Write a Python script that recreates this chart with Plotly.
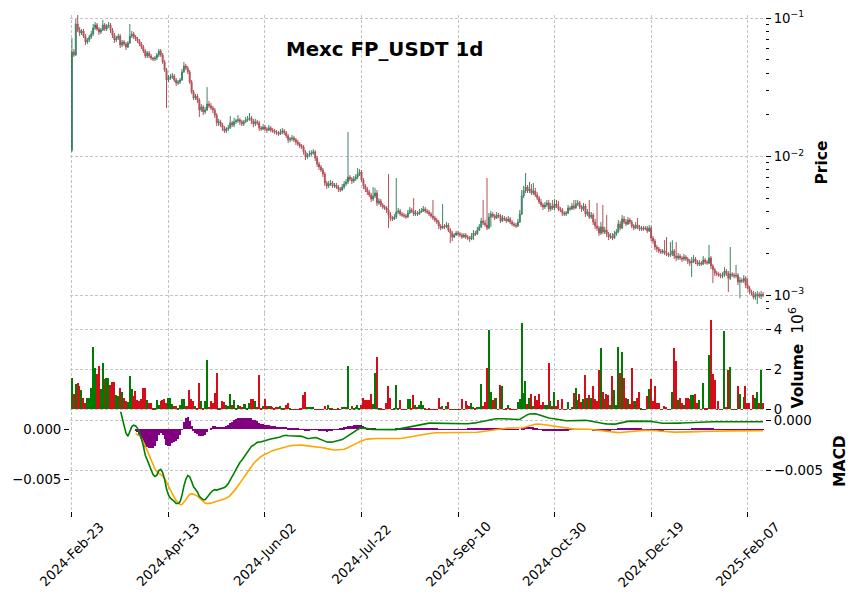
import plotly.graph_objects as go
import pandas as pd

# ---------------- data ----------------
tick_index = [0, 50, 100, 150, 200, 250, 300, 350]
tick_labels = ["2024-Feb-23", "2024-Apr-13", "2024-Jun-02", "2024-Jul-22",
               "2024-Sep-10", "2024-Oct-30", "2024-Dec-19", "2025-Feb-07"]

closes = [
    0.0568, 0.0541, 0.0905, 0.0819, 0.0779, 0.0806, 0.0741, 0.0671, 0.0694, 0.0729,
    0.0766, 0.0847, 0.0890, 0.0833, 0.0792, 0.0819, 0.0890, 0.0833, 0.0875, 0.0890,
    0.0819, 0.0754, 0.0694, 0.0717, 0.0741, 0.0638, 0.0671, 0.0649, 0.0617, 0.0660,
    0.0741, 0.0766, 0.0729, 0.0705, 0.0682, 0.0649, 0.0617, 0.0578, 0.0532, 0.0559,
    0.0532, 0.0514, 0.0506, 0.0514, 0.0541, 0.0578, 0.0541, 0.0481, 0.0421, 0.0357,
    0.0369, 0.0375, 0.0381, 0.0357, 0.0339, 0.0345, 0.0357, 0.0408, 0.0450, 0.0436,
    0.0408, 0.0345, 0.0292, 0.0264, 0.0273, 0.0256, 0.0217, 0.0228, 0.0210, 0.0217,
    0.0239, 0.0232, 0.0224, 0.0217, 0.0199, 0.0175, 0.0178, 0.0169, 0.0161, 0.0153,
    0.0158, 0.0161, 0.0175, 0.0169, 0.0178, 0.0181, 0.0184, 0.0178, 0.0172, 0.0178,
    0.0184, 0.0187, 0.0190, 0.0181, 0.0172, 0.0178, 0.0175, 0.0161, 0.0158, 0.0163,
    0.0158, 0.0155, 0.0161, 0.0155, 0.0153, 0.0150, 0.0148, 0.0145, 0.0150, 0.0153,
    0.0148, 0.0141, 0.0132, 0.0134, 0.0136, 0.0132, 0.0127, 0.0123, 0.0119, 0.0117,
    0.0108, 0.00992, 0.0103, 0.0104, 0.0106, 0.0108, 0.00975, 0.00883, 0.00840, 0.00799,
    0.00747, 0.00644, 0.00613, 0.00633, 0.00644, 0.00613, 0.00623, 0.00602, 0.00583, 0.00573,
    0.00602, 0.00633, 0.00655, 0.00711, 0.00687, 0.00666, 0.00687, 0.00711, 0.00747, 0.00773,
    0.00676, 0.00613, 0.00583, 0.00554, 0.00527, 0.00493, 0.00518, 0.00545, 0.00462, 0.00477,
    0.00447, 0.00432, 0.00425, 0.00411, 0.00378, 0.00360, 0.00354, 0.00366, 0.00397, 0.00404,
    0.00384, 0.00378, 0.00372, 0.00366, 0.00391, 0.00411, 0.00404, 0.00384, 0.00391, 0.00384,
    0.00397, 0.00404, 0.00418, 0.00404, 0.00397, 0.00384, 0.00372, 0.00360, 0.00348, 0.00336,
    0.00315, 0.00304, 0.00315, 0.00310, 0.00320, 0.00294, 0.00280, 0.00262, 0.00271, 0.00280,
    0.00276, 0.00271, 0.00262, 0.00271, 0.00262, 0.00258, 0.00254, 0.00267, 0.00280, 0.00276,
    0.00294, 0.00310, 0.00342, 0.00331, 0.00320, 0.00304, 0.00366, 0.00384, 0.00372, 0.00360,
    0.00378, 0.00372, 0.00342, 0.00360, 0.00354, 0.00342, 0.00354, 0.00336, 0.00325, 0.00320,
    0.00315, 0.00336, 0.00384, 0.00518, 0.00564, 0.00602, 0.00564, 0.00583, 0.00545, 0.00564,
    0.00527, 0.00501, 0.00469, 0.00447, 0.00432, 0.00447, 0.00462, 0.00418, 0.00439, 0.00425,
    0.00454, 0.00439, 0.00418, 0.00411, 0.00391, 0.00384, 0.00391, 0.00425, 0.00418, 0.00439,
    0.00425, 0.00454, 0.00462, 0.00432, 0.00418, 0.00439, 0.00384, 0.00397, 0.00366, 0.00378,
    0.00336, 0.00315, 0.00304, 0.00280, 0.00310, 0.00285, 0.00294, 0.00276, 0.00262, 0.00267,
    0.00258, 0.00276, 0.00285, 0.00325, 0.00304, 0.00354, 0.00336, 0.00325, 0.00348, 0.00336,
    0.00315, 0.00304, 0.00320, 0.00310, 0.00299, 0.00304, 0.00299, 0.00304, 0.00290, 0.00304,
    0.00258, 0.00245, 0.00222, 0.00215, 0.00208, 0.00204, 0.00208, 0.00201, 0.00198, 0.00194,
    0.00198, 0.00208, 0.00191, 0.00185, 0.00191, 0.00185, 0.00182, 0.00188, 0.00182, 0.00176,
    0.00170, 0.00176, 0.00182, 0.00173, 0.00167, 0.00170, 0.00167, 0.00179, 0.00173, 0.00170,
    0.00185, 0.00162, 0.00152, 0.00144, 0.00142, 0.00139, 0.00137, 0.00139, 0.00149, 0.00144,
    0.00132, 0.00142, 0.00139, 0.00137, 0.00139, 0.00124, 0.00128, 0.00126, 0.00132, 0.00118,
    0.00112, 0.00105, 0.00103, 0.000964, 0.000996, 0.00101, 0.000980, 0.00101, 0.000996,
]

opens = [
    0.0111, 0.0568, 0.0541, 0.0905, 0.0819, 0.0779, 0.0806, 0.0741, 0.0671, 0.0694,
    0.0729, 0.0766, 0.0847, 0.0890, 0.0833, 0.0792, 0.0819, 0.0890, 0.0833, 0.0875,
    0.0890, 0.0819, 0.0754, 0.0694, 0.0717, 0.0741, 0.0638, 0.0671, 0.0649, 0.0617,
    0.0660, 0.0741, 0.0766, 0.0729, 0.0705, 0.0682, 0.0649, 0.0617, 0.0578, 0.0532,
    0.0559, 0.0532, 0.0514, 0.0506, 0.0514, 0.0541, 0.0578, 0.0541, 0.0481, 0.0421,
    0.0357, 0.0369, 0.0375, 0.0381, 0.0357, 0.0339, 0.0345, 0.0357, 0.0408, 0.0450,
    0.0436, 0.0408, 0.0345, 0.0292, 0.0264, 0.0273, 0.0256, 0.0217, 0.0228, 0.0210,
    0.0217, 0.0239, 0.0232, 0.0224, 0.0217, 0.0199, 0.0175, 0.0178, 0.0169, 0.0161,
    0.0153, 0.0158, 0.0161, 0.0175, 0.0169, 0.0178, 0.0181, 0.0184, 0.0178, 0.0172,
    0.0178, 0.0184, 0.0187, 0.0190, 0.0181, 0.0172, 0.0178, 0.0175, 0.0161, 0.0158,
    0.0163, 0.0158, 0.0155, 0.0161, 0.0155, 0.0153, 0.0150, 0.0148, 0.0145, 0.0150,
    0.0153, 0.0148, 0.0141, 0.0132, 0.0134, 0.0136, 0.0132, 0.0127, 0.0123, 0.0119,
    0.0117, 0.0108, 0.00992, 0.0103, 0.0104, 0.0106, 0.0108, 0.00975, 0.00883, 0.00840,
    0.00799, 0.00747, 0.00644, 0.00613, 0.00633, 0.00644, 0.00613, 0.00623, 0.00602, 0.00583,
    0.00573, 0.00602, 0.00633, 0.00655, 0.00711, 0.00687, 0.00666, 0.00687, 0.00711, 0.00747,
    0.00773, 0.00676, 0.00613, 0.00583, 0.00554, 0.00527, 0.00493, 0.00518, 0.00545, 0.00462,
    0.00477, 0.00447, 0.00432, 0.00425, 0.00411, 0.00378, 0.00360, 0.00354, 0.00366, 0.00397,
    0.00404, 0.00384, 0.00378, 0.00372, 0.00366, 0.00391, 0.00411, 0.00404, 0.00384, 0.00391,
    0.00384, 0.00397, 0.00404, 0.00418, 0.00404, 0.00397, 0.00384, 0.00372, 0.00360, 0.00348,
    0.00336, 0.00315, 0.00304, 0.00315, 0.00310, 0.00320, 0.00294, 0.00280, 0.00262, 0.00271,
    0.00280, 0.00276, 0.00271, 0.00262, 0.00271, 0.00262, 0.00258, 0.00254, 0.00267, 0.00280,
    0.00276, 0.00294, 0.00310, 0.00342, 0.00331, 0.00320, 0.00304, 0.00366, 0.00384, 0.00372,
    0.00360, 0.00378, 0.00372, 0.00342, 0.00360, 0.00354, 0.00342, 0.00354, 0.00336, 0.00325,
    0.00320, 0.00315, 0.00336, 0.00384, 0.00518, 0.00564, 0.00602, 0.00564, 0.00583, 0.00545,
    0.00564, 0.00527, 0.00501, 0.00469, 0.00447, 0.00432, 0.00447, 0.00462, 0.00418, 0.00439,
    0.00425, 0.00454, 0.00439, 0.00418, 0.00411, 0.00391, 0.00384, 0.00391, 0.00425, 0.00418,
    0.00439, 0.00425, 0.00454, 0.00462, 0.00432, 0.00418, 0.00439, 0.00384, 0.00397, 0.00366,
    0.00378, 0.00336, 0.00315, 0.00304, 0.00280, 0.00310, 0.00285, 0.00294, 0.00276, 0.00262,
    0.00267, 0.00258, 0.00276, 0.00285, 0.00325, 0.00304, 0.00354, 0.00336, 0.00325, 0.00348,
    0.00336, 0.00315, 0.00304, 0.00320, 0.00310, 0.00299, 0.00304, 0.00299, 0.00304, 0.00290,
    0.00304, 0.00258, 0.00245, 0.00222, 0.00215, 0.00208, 0.00204, 0.00208, 0.00201, 0.00198,
    0.00194, 0.00198, 0.00208, 0.00191, 0.00185, 0.00191, 0.00185, 0.00182, 0.00188, 0.00182,
    0.00176, 0.00170, 0.00176, 0.00182, 0.00173, 0.00167, 0.00170, 0.00167, 0.00179, 0.00173,
    0.00170, 0.00185, 0.00162, 0.00152, 0.00144, 0.00142, 0.00139, 0.00137, 0.00139, 0.00149,
    0.00144, 0.00132, 0.00142, 0.00139, 0.00137, 0.00139, 0.00124, 0.00128, 0.00126, 0.00132,
    0.00118, 0.00112, 0.00105, 0.00103, 0.000964, 0.000996, 0.00101, 0.000980, 0.00101,
]

highs = [
    0.0717, 0.0597, 0.0984, 0.107, 0.0861, 0.0833, 0.0833, 0.0766, 0.0717, 0.0754,
    0.0806, 0.0905, 0.0936, 0.0920, 0.0861, 0.0847, 0.0967, 0.0920, 0.0905, 0.0936,
    0.0920, 0.0847, 0.0779, 0.0741, 0.0766, 0.0766, 0.0694, 0.0694, 0.0671, 0.0682,
    0.0905, 0.0806, 0.0792, 0.0754, 0.0729, 0.0705, 0.0671, 0.0638, 0.0597, 0.0578,
    0.0578, 0.0550, 0.0523, 0.0532, 0.0559, 0.0597, 0.0597, 0.0559, 0.0497, 0.0436,
    0.0388, 0.0394, 0.0401, 0.0394, 0.0369, 0.0357, 0.0369, 0.0428, 0.0481, 0.0466,
    0.0450, 0.0421, 0.0357, 0.0302, 0.0283, 0.0283, 0.0264, 0.0239, 0.0235, 0.0228,
    0.0317, 0.0252, 0.0243, 0.0232, 0.0224, 0.0206, 0.0187, 0.0184, 0.0175, 0.0166,
    0.0163, 0.0169, 0.0196, 0.0181, 0.0190, 0.0187, 0.0199, 0.0190, 0.0184, 0.0184,
    0.0193, 0.0196, 0.0206, 0.0196, 0.0187, 0.0187, 0.0184, 0.0181, 0.0166, 0.0172,
    0.0169, 0.0163, 0.0169, 0.0166, 0.0161, 0.0158, 0.0155, 0.0153, 0.0158, 0.0161,
    0.0158, 0.0153, 0.0145, 0.0138, 0.0143, 0.0141, 0.0136, 0.0132, 0.0127, 0.0123,
    0.0121, 0.0111, 0.0106, 0.0110, 0.0111, 0.0113, 0.0111, 0.0101, 0.00913, 0.00868,
    0.00826, 0.00773, 0.00666, 0.00666, 0.00676, 0.00666, 0.00644, 0.00644, 0.00623, 0.00602,
    0.00633, 0.00666, 0.00687, 0.0150, 0.00735, 0.00711, 0.00723, 0.00747, 0.00826, 0.00812,
    0.00799, 0.00699, 0.00633, 0.00602, 0.00573, 0.00545, 0.00602, 0.00593, 0.00573, 0.00501,
    0.00493, 0.00462, 0.00447, 0.00439, 0.00747, 0.00397, 0.00372, 0.00384, 0.00699, 0.00425,
    0.00418, 0.00397, 0.00391, 0.00384, 0.00411, 0.00432, 0.00425, 0.00501, 0.00411, 0.00404,
    0.00418, 0.00425, 0.00439, 0.00432, 0.00418, 0.00411, 0.00397, 0.00485, 0.00372, 0.00360,
    0.00348, 0.00325, 0.00454, 0.00325, 0.00336, 0.00331, 0.00304, 0.00290, 0.00280, 0.00290,
    0.00290, 0.00285, 0.00280, 0.00280, 0.00280, 0.00271, 0.00267, 0.00280, 0.00294, 0.00290,
    0.00310, 0.00325, 0.00360, 0.00485, 0.00348, 0.00699, 0.00391, 0.00404, 0.00397, 0.00384,
    0.00397, 0.00391, 0.00384, 0.00378, 0.00372, 0.00366, 0.00372, 0.00366, 0.00348, 0.00336,
    0.00331, 0.00354, 0.00411, 0.00573, 0.00613, 0.00760, 0.00623, 0.00655, 0.00633, 0.00644,
    0.00593, 0.00554, 0.00518, 0.00493, 0.00462, 0.00469, 0.00485, 0.00485, 0.00462, 0.00485,
    0.00493, 0.00485, 0.00477, 0.00432, 0.00425, 0.00404, 0.00404, 0.00447, 0.00439, 0.00462,
    0.00485, 0.00485, 0.00485, 0.00477, 0.00447, 0.00462, 0.00454, 0.00418, 0.00485, 0.00397,
    0.00391, 0.00354, 0.00462, 0.00315, 0.00336, 0.00447, 0.00310, 0.00378, 0.00285, 0.00280,
    0.00280, 0.00290, 0.00299, 0.00348, 0.00342, 0.00378, 0.00372, 0.00354, 0.00366, 0.00360,
    0.00348, 0.00325, 0.00336, 0.00360, 0.00320, 0.00315, 0.00315, 0.00315, 0.00315, 0.00320,
    0.00315, 0.00267, 0.00254, 0.00230, 0.00222, 0.00215, 0.00215, 0.00249, 0.00262, 0.00204,
    0.00241, 0.00249, 0.00215, 0.00241, 0.00201, 0.00198, 0.00191, 0.00198, 0.00194, 0.00188,
    0.00182, 0.00188, 0.00194, 0.00188, 0.00179, 0.00179, 0.00176, 0.00191, 0.00185, 0.00179,
    0.00230, 0.00191, 0.00167, 0.00157, 0.00149, 0.00146, 0.00144, 0.00146, 0.00159, 0.00154,
    0.00149, 0.00222, 0.00146, 0.00144, 0.00165, 0.00144, 0.00135, 0.00132, 0.00139, 0.00137,
    0.00132, 0.00116, 0.00109, 0.00107, 0.00105, 0.00107, 0.00105, 0.00107, 0.00105,
]

lows = [
    0.0108, 0.0523, 0.0532, 0.0792, 0.0741, 0.0754, 0.0717, 0.0638, 0.0649, 0.0671,
    0.0705, 0.0741, 0.0819, 0.0806, 0.0754, 0.0766, 0.0806, 0.0806, 0.0806, 0.0847,
    0.0779, 0.0717, 0.0660, 0.0671, 0.0694, 0.0607, 0.0617, 0.0628, 0.0587, 0.0607,
    0.0649, 0.0717, 0.0705, 0.0682, 0.0660, 0.0628, 0.0597, 0.0559, 0.0514, 0.0514,
    0.0514, 0.0497, 0.0489, 0.0489, 0.0497, 0.0523, 0.0523, 0.0466, 0.0408, 0.0224,
    0.0345, 0.0357, 0.0363, 0.0345, 0.0323, 0.0328, 0.0334, 0.0351, 0.0401, 0.0421,
    0.0394, 0.0334, 0.0283, 0.0256, 0.0256, 0.0243, 0.0193, 0.0210, 0.0199, 0.0203,
    0.0213, 0.0224, 0.0217, 0.0206, 0.0190, 0.0166, 0.0166, 0.0163, 0.0153, 0.0148,
    0.0148, 0.0153, 0.0158, 0.0163, 0.0163, 0.0172, 0.0175, 0.0169, 0.0166, 0.0166,
    0.0175, 0.0178, 0.0181, 0.0172, 0.0163, 0.0166, 0.0169, 0.0153, 0.0153, 0.0155,
    0.0153, 0.0148, 0.0153, 0.0150, 0.0148, 0.0145, 0.0143, 0.0141, 0.0143, 0.0145,
    0.0143, 0.0136, 0.0125, 0.0127, 0.0129, 0.0127, 0.0121, 0.0119, 0.0115, 0.0113,
    0.0103, 0.00943, 0.00959, 0.00992, 0.0101, 0.0103, 0.00928, 0.00840, 0.00799, 0.00773,
    0.00711, 0.00613, 0.00583, 0.00593, 0.00613, 0.00593, 0.00593, 0.00583, 0.00554, 0.00554,
    0.00564, 0.00583, 0.00613, 0.00633, 0.00666, 0.00633, 0.00644, 0.00666, 0.00687, 0.00723,
    0.00655, 0.00583, 0.00554, 0.00527, 0.00510, 0.00469, 0.00477, 0.00501, 0.00439, 0.00447,
    0.00432, 0.00418, 0.00411, 0.00391, 0.00304, 0.00342, 0.00342, 0.00348, 0.00354, 0.00384,
    0.00372, 0.00366, 0.00360, 0.00354, 0.00360, 0.00384, 0.00391, 0.00372, 0.00372, 0.00372,
    0.00378, 0.00391, 0.00397, 0.00391, 0.00384, 0.00372, 0.00360, 0.00348, 0.00336, 0.00325,
    0.00299, 0.00294, 0.00299, 0.00299, 0.00304, 0.00285, 0.00237, 0.00245, 0.00258, 0.00267,
    0.00267, 0.00262, 0.00254, 0.00258, 0.00254, 0.00249, 0.00241, 0.00249, 0.00249, 0.00267,
    0.00271, 0.00290, 0.00304, 0.00320, 0.00310, 0.00294, 0.00299, 0.00310, 0.00360, 0.00348,
    0.00354, 0.00360, 0.00331, 0.00336, 0.00342, 0.00331, 0.00336, 0.00325, 0.00315, 0.00310,
    0.00304, 0.00310, 0.00331, 0.00378, 0.00501, 0.00545, 0.00545, 0.00545, 0.00527, 0.00527,
    0.00510, 0.00485, 0.00454, 0.00432, 0.00411, 0.00418, 0.00432, 0.00397, 0.00404, 0.00411,
    0.00411, 0.00425, 0.00404, 0.00397, 0.00372, 0.00372, 0.00372, 0.00384, 0.00404, 0.00411,
    0.00411, 0.00418, 0.00439, 0.00418, 0.00397, 0.00404, 0.00366, 0.00372, 0.00354, 0.00354,
    0.00320, 0.00299, 0.00290, 0.00267, 0.00271, 0.00276, 0.00276, 0.00262, 0.00249, 0.00254,
    0.00249, 0.00254, 0.00267, 0.00280, 0.00294, 0.00299, 0.00325, 0.00315, 0.00320, 0.00325,
    0.00304, 0.00294, 0.00299, 0.00299, 0.00290, 0.00290, 0.00290, 0.00294, 0.00280, 0.00285,
    0.00245, 0.00233, 0.00211, 0.00204, 0.00201, 0.00198, 0.00198, 0.00194, 0.00191, 0.00188,
    0.00188, 0.00191, 0.00182, 0.00176, 0.00179, 0.00179, 0.00173, 0.00176, 0.00176, 0.00167,
    0.00162, 0.00135, 0.00170, 0.00167, 0.00162, 0.00162, 0.00162, 0.00165, 0.00167, 0.00165,
    0.00167, 0.00154, 0.00122, 0.00137, 0.00137, 0.00135, 0.00132, 0.00132, 0.00135, 0.00137,
    0.00105, 0.00128, 0.00135, 0.00132, 0.00132, 0.00118, 0.000948, 0.00122, 0.00122, 0.00112,
    0.00109, 0.00101, 0.000996, 0.000932, 0.000920, 0.000861, 0.000948, 0.000932, 0.000964,
]

# volume in millions (axis shows "Volume 10^6")
volume_m = [
    1.58, 0.75, 1.25, 1.33, 1.17, 0.95, 0.58, 0.33, 0.58, 0.58,
    1.05, 3.10, 2.08, 1.78, 2.17, 1.00, 2.32, 1.50, 1.55, 1.55,
    1.22, 1.37, 1.37, 0.72, 0.67, 1.05, 0.87, 0.58, 0.42, 0.38,
    1.67, 1.00, 0.67, 0.92, 0.47, 0.42, 0.50, 1.05, 1.05, 0.45,
    0.33, 0.33, 0.05, 0.08, 0.45, 0.22, 0.42, 0.45, 0.50, 0.33,
    0.55, 0.55, 0.25, 0.17, 0.17, 0.05, 0.22, 0.50, 0.50, 0.17,
    0.17, 0.95, 0.50, 0.42, 0.17, 0.05, 1.30, 0.42, 0.05, 0.42,
    2.45, 0.12, 0.42, 0.33, 0.83, 1.83, 0.05, 0.05, 0.42, 0.38,
    0.22, 0.17, 0.75, 0.22, 0.45, 0.08, 0.22, 0.17, 0.12, 0.25,
    0.25, 0.05, 0.33, 0.50, 0.50, 0.42, 0.12, 1.72, 0.05, 0.17,
    0.50, 0.17, 0.17, 0.17, 0.12, 0.05, 0.12, 0.12, 0.17, 0.05,
    0.05, 0.22, 0.33, 0.03, 0.02, 0.02, 0.02, 0.02, 0.08, 0.05,
    0.72, 0.88, 0.12, 0.10, 0.10, 0.10, 0.01, 0.01, 0.01, 0.02,
    0.02, 0.17, 0.01, 0.22, 0.05, 0.08, 0.02, 0.02, 0.05, 0.01,
    0.12, 0.12, 0.12, 2.17, 0.02, 0.17, 0.08, 0.12, 0.22, 0.05,
    0.22, 0.55, 0.47, 0.47, 0.47, 0.75, 0.28, 1.82, 2.62, 0.05,
    0.05, 0.02, 0.01, 0.30, 1.15, 0.55, 0.01, 0.05, 1.22, 0.05,
    0.45, 0.01, 0.01, 0.01, 0.50, 0.50, 0.05, 0.70, 0.22, 0.12,
    0.22, 0.42, 0.22, 0.05, 0.01, 0.05, 0.02, 0.01, 0.01, 0.01,
    0.55, 0.12, 0.17, 0.01, 0.17, 0.37, 0.01, 0.01, 0.01, 0.01,
    0.01, 0.02, 0.50, 0.01, 0.42, 0.22, 0.17, 0.30, 0.12, 0.05,
    0.12, 0.12, 1.25, 0.17, 0.38, 2.05, 3.95, 0.88, 0.47, 0.55,
    0.55, 0.01, 1.22, 1.17, 0.01, 0.05, 0.22, 0.05, 0.01, 0.01,
    0.01, 0.37, 0.50, 4.32, 0.83, 1.42, 0.28, 0.55, 0.78, 0.17,
    0.67, 0.45, 0.78, 0.22, 0.35, 0.22, 0.22, 2.33, 0.42, 0.17,
    0.87, 0.17, 0.45, 0.01, 0.50, 0.01, 0.01, 0.37, 0.01, 0.12,
    0.83, 1.05, 0.45, 0.75, 0.37, 0.53, 1.72, 0.55, 0.70, 0.55,
    1.17, 0.50, 0.42, 1.95, 3.05, 0.88, 0.50, 0.78, 0.72, 0.22,
    1.67, 0.95, 0.22, 3.12, 1.83, 2.87, 1.55, 0.55, 0.50, 0.25,
    2.08, 0.42, 0.42, 0.55, 0.88, 0.05, 0.01, 0.01, 0.67, 1.00,
    1.50, 0.42, 1.17, 0.33, 0.33, 0.01, 0.01, 0.17, 0.12, 0.01,
    0.01, 0.88, 3.05, 2.42, 0.45, 0.58, 0.33, 0.22, 0.55, 0.55,
    0.53, 0.72, 0.72, 0.75, 0.33, 0.45, 0.01, 1.33, 0.05, 0.05,
    2.70, 4.45, 1.78, 1.45, 0.01, 0.40, 0.01, 0.01, 3.92, 0.10,
    1.95, 2.12, 0.01, 0.01, 0.01, 1.17, 0.78, 0.01, 0.62, 1.17,
    0.32, 0.32, 0.01, 0.72, 0.55, 0.88, 0.30, 1.95, 0.30,
]

# ---------------- derived (MACD 12/26/9 of the closes) ----------------
n = len(closes)
idx = list(range(n))
cs = pd.Series(closes)
ema12 = cs.ewm(span=12, adjust=False, min_periods=12).mean()
ema26 = cs.ewm(span=26, adjust=False, min_periods=26).mean()
macd = ema12 - ema26
signal = macd.ewm(span=9, adjust=False, min_periods=9).mean()
hist = macd - signal

# ---------------- styling ----------------
UP_C, DN_C = "#1e6e4e", "#a8333b"
VUP, VDN = "#007a00", "#d50d18"
GRID = "#c4c4c4"
FONT = "DejaVu Sans"
vol_colors = [VUP if c >= o else VDN for o, c in zip(opens, closes)]

fig = go.Figure()
fig.add_trace(go.Candlestick(
    x=idx, open=opens, high=highs, low=lows, close=closes,
    xaxis="x3", yaxis="y",
    increasing=dict(line=dict(color=UP_C, width=1), fillcolor=UP_C),
    decreasing=dict(line=dict(color=DN_C, width=1), fillcolor=DN_C),
    whiskerwidth=0, opacity=0.85,
))
fig.add_trace(go.Bar(x=idx, y=volume_m, xaxis="x2", yaxis="y2",
                     marker=dict(color=vol_colors, line=dict(width=0)), width=0.75))
# histogram and signal share the left-hand MACD scale, the MACD line the right-hand one
fig.add_trace(go.Bar(x=idx, y=hist, xaxis="x", yaxis="y3",
                     marker=dict(color="purple", line=dict(width=0)), width=0.6))
fig.add_trace(go.Scatter(x=idx, y=signal, xaxis="x", yaxis="y3", mode="lines",
                         line=dict(color="orange", width=1.6)))
fig.add_trace(go.Scatter(x=idx, y=macd, xaxis="x", yaxis="y4", mode="lines",
                         line=dict(color="green", width=1.6)))

grid_common = dict(showgrid=True, gridcolor=GRID, griddash="3px,2px", gridwidth=0.8,
                   zeroline=False, showline=False, automargin=False)
xbase = dict(range=[-1, n], tickvals=tick_index, **grid_common)

minor_vals = [0.0008, 0.0009] + [k * 0.001 for k in range(2, 10)] + [k * 0.01 for k in range(2, 10)]

fig.update_layout(
    width=859, height=602,
    margin=dict(l=70, r=94, t=15, b=91, autoexpand=False),
    paper_bgcolor="white", plot_bgcolor="white",
    showlegend=False, bargap=0,
    font=dict(family=FONT, size=13.3, color="black"),
    xaxis=dict(domain=[0, 1], anchor="y3", showticklabels=False,
               ticks="outside", ticklen=5, tickcolor="black",
               rangeslider=dict(visible=False), **xbase),
    xaxis2=dict(domain=[0, 1], anchor="y2", matches="x", showticklabels=False, ticks="",
                rangeslider=dict(visible=False), **xbase),
    xaxis3=dict(domain=[0, 1], anchor="y", matches="x", showticklabels=False, ticks="",
                rangeslider=dict(visible=False), **xbase),
    yaxis=dict(domain=[0.4, 1], anchor="x3", side="right", type="log",
               range=[-3.1271, -0.9783],
               tickvals=[0.001, 0.01, 0.1],
               ticktext=["10<sup>−3</sup>", "10<sup>−2</sup>", "10<sup>−1</sup>"],
               ticks="outside", ticklen=5, tickcolor="black",
               minor=dict(tickvals=minor_vals, ticks="outside", ticklen=3,
                          tickcolor="black", showgrid=False),
               **grid_common),
    yaxis2=dict(domain=[0.2, 0.4], anchor="x2", side="right", range=[-0.14, 4.82],
                tickvals=[0, 2, 4], ticktext=["0", "2", "4"],
                ticks="outside", ticklen=5, tickcolor="black", **grid_common),
    yaxis3=dict(domain=[0, 0.2], anchor="x", side="left", range=[-0.0082, 0.00172],
                tickvals=[0, -0.005], ticktext=["0.000", "−0.005"],
                ticks="outside", ticklen=5, tickcolor="black",
                showgrid=False, zeroline=False, showline=False, automargin=False),
    yaxis4=dict(overlaying="y3", anchor="x", side="right", range=[-0.0091, 0.00082],
                tickvals=[0, -0.005], ticktext=["0.000", "−0.005"],
                ticks="outside", ticklen=5, tickcolor="black", **grid_common),
)

def px_to_paper(xp, yp):
    return (xp - 70) / 695.0, (511 - yp) / 496.0

# rotated date labels, centred under their ticks (matplotlib style)
_, label_y = px_to_paper(0, 554.5)
for ti, tl in zip(tick_index, tick_labels):
    fig.add_annotation(text=tl, x=ti, y=label_y, xref="x", yref="paper",
                       xanchor="center", yanchor="middle", showarrow=False,
                       textangle=-45, font=dict(family=FONT, size=13.3, color="black"))

annots = [
    ("<b>Mexc FP_USDT 1d</b>", 384.5, 49, 0, 19.8),
    ("<b>Price</b>", 821.5, 163, -90, 15.5),
    ("<b>Volume</b>\u00a0\u00a010<sup>6</sup>", 796.5, 358, -90, 15.5),
    ("<b>MACD</b>", 840, 461, -90, 15.5),
]
for text, xp, yp, ang, sz in annots:
    ax, ay = px_to_paper(xp, yp)
    fig.add_annotation(text=text, x=ax, y=ay, xref="paper", yref="paper",
                       xanchor="center", yanchor="middle", showarrow=False,
                       textangle=ang, font=dict(family=FONT, size=sz, color="black"))

fig.write_html("out.html")
